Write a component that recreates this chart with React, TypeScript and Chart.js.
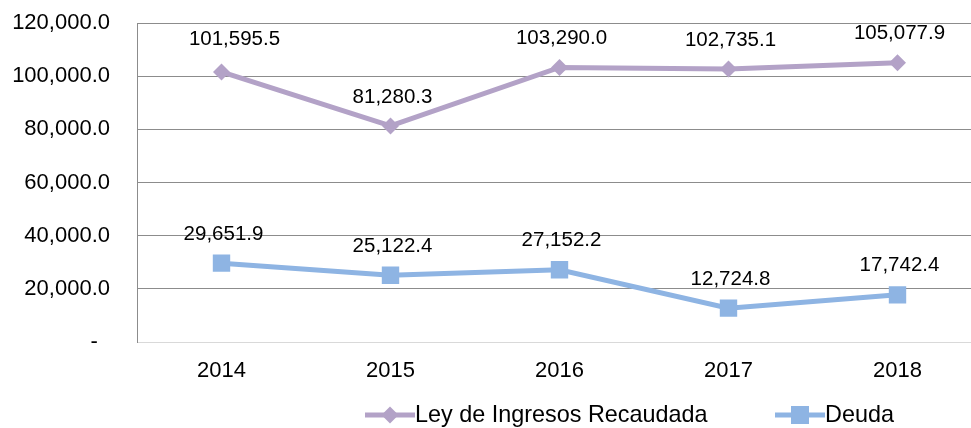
import React, { useEffect, useRef } from "react";
import { Chart, registerables } from "chart.js";

Chart.register(...registerables);

const years = ["2014", "2015", "2016", "2017", "2018"];
const leyIngresos = [101595.5, 81280.3, 103290.0, 102735.1, 105077.9];
const deuda = [29651.9, 25122.4, 27152.2, 12724.8, 17742.4];
const yTickValues = [0, 20000, 40000, 60000, 80000, 100000, 120000];
const seriesNames = ["Ley de Ingresos Recaudada", "Deuda"];

const PURPLE = "#B3A2C7";
const BLUE = "#8EB4E3";
const FONT = "'Liberation Sans', Arial, sans-serif";
const FS = 22;
const LABEL_FS = 20.5;
const LEGEND_FS = 23.4;

const fmt = (v: number) =>
  v.toLocaleString("en-US", { minimumFractionDigits: 1, maximumFractionDigits: 1 });

const labelPlugin = {
  id: "pointLabels",
  afterDatasetsDraw(chart: any) {
    const ctx = chart.ctx;
    ctx.save();
    ctx.font = `${LABEL_FS}px ${FONT}`;
    ctx.fillStyle = "#000000";
    ctx.textAlign = "center";
    ctx.textBaseline = "middle";
    chart.data.datasets.forEach((ds: any, i: number) => {
      const meta = chart.getDatasetMeta(i);
      meta.data.forEach((pt: any, j: number) => {
        // first purple label sits slightly shifted in the original
        const moved = i === 0 && j === 0;
        const dx = moved ? 13 : 2;
        const lift = moved ? 33 : 29;
        ctx.fillText(fmt(ds.data[j]), pt.x + dx, pt.y - lift);
      });
    });
    ctx.restore();
  },
};

const legendPlugin = {
  id: "lineLegend",
  afterDraw(chart: any) {
    const ctx = chart.ctx;
    const y = 415;
    const items = [
      { x0: 365, color: PURPLE, style: "diamond", text: seriesNames[0] },
      { x0: 775, color: BLUE, style: "square", text: seriesNames[1] },
    ];
    ctx.save();
    ctx.font = `${LEGEND_FS}px ${FONT}`;
    ctx.textBaseline = "middle";
    ctx.textAlign = "left";
    items.forEach((it) => {
      ctx.strokeStyle = it.color;
      ctx.lineWidth = 5;
      ctx.beginPath();
      ctx.moveTo(it.x0, y);
      ctx.lineTo(it.x0 + 50, y);
      ctx.stroke();
      ctx.fillStyle = it.color;
      const cx = it.x0 + 25;
      ctx.beginPath();
      if (it.style === "diamond") {
        ctx.moveTo(cx, y - 8.5);
        ctx.lineTo(cx + 8.5, y);
        ctx.lineTo(cx, y + 8.5);
        ctx.lineTo(cx - 8.5, y);
        ctx.closePath();
      } else {
        ctx.rect(cx - 9, y - 9, 18, 18);
      }
      ctx.fill();
      ctx.fillStyle = "#000000";
      ctx.fillText(it.text, it.x0 + 50, y + 1);
    });
    ctx.restore();
  },
};

export default function App() {
  const ref = useRef<HTMLCanvasElement | null>(null);
  useEffect(() => {
    if (!ref.current) return;
    const chart = new Chart(ref.current, {
      type: "line",
      data: {
        labels: years,
        datasets: [
          {
            label: seriesNames[0],
            data: leyIngresos,
            borderColor: PURPLE,
            backgroundColor: PURPLE,
            borderWidth: 5,
            pointStyle: "rectRot",
            pointRadius: 8.5,
            pointBorderWidth: 0,
            pointBackgroundColor: PURPLE,
            tension: 0,
          },
          {
            label: seriesNames[1],
            data: deuda,
            borderColor: BLUE,
            backgroundColor: BLUE,
            borderWidth: 5,
            pointStyle: "rect",
            pointRadius: 12.3,
            pointBorderWidth: 0,
            pointBackgroundColor: BLUE,
            tension: 0,
          },
        ],
      },
      options: {
        responsive: false,
        animation: false,
        layout: { padding: { left: 0, right: 18, top: 23, bottom: 0 } },
        plugins: {
          legend: { display: false },
          tooltip: { enabled: false },
        },
        scales: {
          x: {
            offset: true,
            grid: { display: false, drawTicks: false },
            border: { display: true, color: "#D9D9D9", width: 1 },
            ticks: {
              color: "#000000",
              font: { family: FONT, size: FS },
              padding: 16,
              maxRotation: 0,
            },
            afterFit: (s: any) => {
              s.height = 86;
            },
          },
          y: {
            min: 0,
            max: 120000,
            afterBuildTicks: (s: any) => {
              s.ticks = yTickValues.map((v) => ({ value: v }));
            },
            grid: {
              drawTicks: true,
              tickLength: 27,
              tickColor: "rgba(0,0,0,0)",
              color: (c: any) => (c.tick && c.tick.value === 0 ? "#D9D9D9" : "#8C8C8C"),
              lineWidth: 1,
            },
            border: { display: true, color: "#8C8C8C", width: 1 },
            ticks: {
              color: "#000000",
              font: { family: FONT, size: FS },
              padding: 0,
              callback: (v: any) => (Number(v) === 0 ? "-  " : fmt(Number(v))),
            },
            afterFit: (s: any) => {
              s.width = 137;
            },
          },
        },
      },
      plugins: [labelPlugin, legendPlugin],
    });
    return () => chart.destroy();
  }, []);
  return (
    <div
      style={{
        position: "absolute",
        left: 0,
        top: 0,
        width: 971,
        height: 428,
        overflow: "hidden",
        background: "#ffffff",
      }}
    >
      <canvas ref={ref} width={1000} height={428} style={{ display: "block" }} />
    </div>
  );
}
